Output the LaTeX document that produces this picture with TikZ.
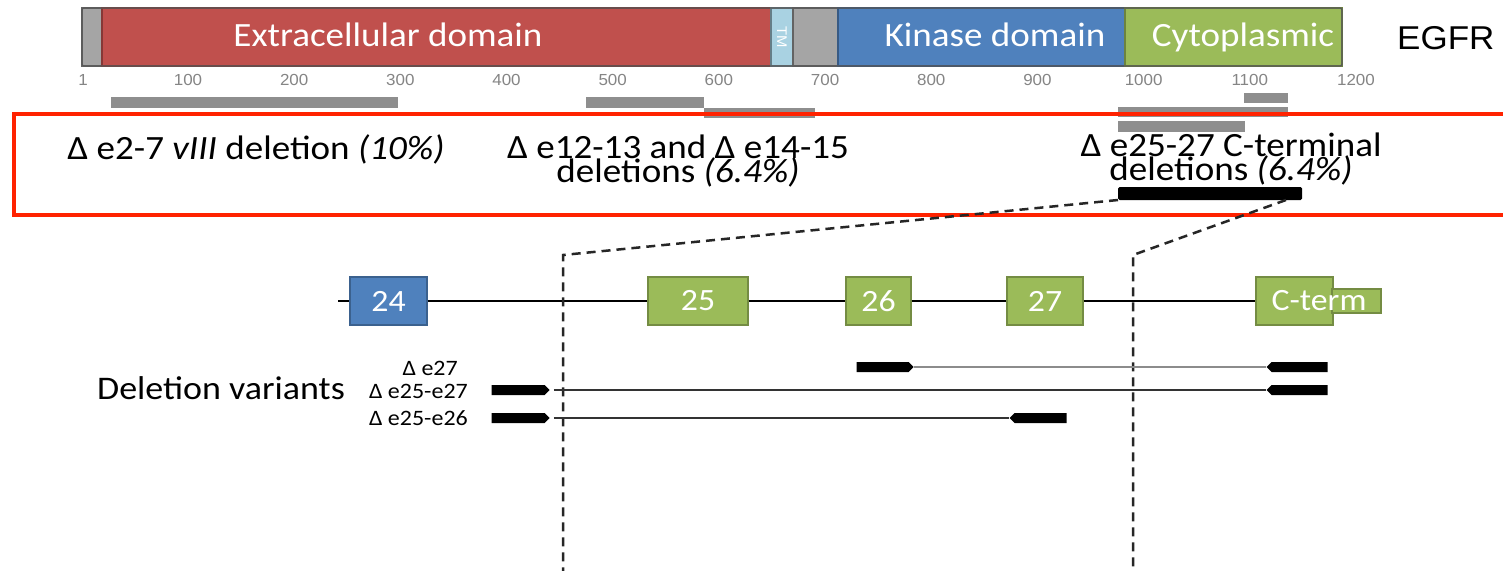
\documentclass[tikz,border=0pt]{standalone}
\usepackage{fontspec}
\setmainfont[FakeStretch=1.09]{Carlito}
\newfontfamily\arialfont[FakeStretch=1.06]{Liberation Sans}
\usetikzlibrary{shapes.symbols}

\definecolor{domred}{HTML}{C0504D}
\definecolor{domblue}{HTML}{4F81BD}
\definecolor{domgreen}{HTML}{9BBB59}
\definecolor{domgray}{HTML}{A5A5A5}
\definecolor{tmblue}{HTML}{A9D2E2}
\definecolor{barfill}{HTML}{8E8E8E}
\definecolor{framered}{HTML}{FF2200}
\definecolor{ticknum}{HTML}{858585}

% let two-line labels keep their close line spacing
\newcommand\tightlines{\lineskiplimit=-100pt\lineskip=0pt\relax}

\tikzset{
  seg/.style={draw=#1, line width=1.2pt, inner sep=0pt, outer sep=0pt,
              anchor=north west, minimum height=58},
  domlabel/.style={text=white, anchor=base, inner sep=0pt, font=\fontsize{34}{36}\selectfont},
  ticklabel/.style={text=ticknum, font=\arialfont\fontsize{16}{17}\selectfont},
  dellabel/.style={font={\fontsize{34}{24}\selectfont\tightlines},
                   align=center, inner sep=0pt},
  exon/.style={draw=#1!75!black, fill=#1, line width=1.2pt, inner sep=0pt,
               minimum height=48, text=white, font=\fontsize{31}{32}\selectfont},
  piece/.style={signal, fill=black, draw=none, inner sep=0pt, minimum height=10,
                signal pointer angle=90},
  varlabel/.style={font=\fontsize{22}{24}\selectfont, anchor=east, inner sep=0pt},
  zoomline/.style={draw=black!85, line width=2.5pt, dash pattern=on 9pt off 6pt},
}

\begin{document}
\begin{tikzpicture}[x=1pt,y=-1pt]
\useasboundingbox (0,0) rectangle (1503,570);
\fill[white] (0,0) rectangle (1503,570);

% ---- protein domain bar ----
\node[seg=domgray!60!black, fill=domgray, minimum width=20] (nterm) at (82,8) {};
\node[seg=domred!70!black, fill=domred, minimum width=669] (ecd) at (102,8) {};
\node[seg=tmblue!60!black, fill=tmblue, minimum width=22] (tm) at (771,8) {};
\node[seg=domgray!60!black, fill=domgray, minimum width=45] (jm) at (793,8) {};
\node[seg=domblue!70!black, fill=domblue, minimum width=287] (kin) at (838,8) {};
\node[seg=domgreen!70!black, fill=domgreen, minimum width=217] (cyto) at (1125,8) {};
\draw[black!65, line width=1.4pt, rounded corners=2pt] (nterm.north west) rectangle (cyto.south east);

\node[domlabel] at (388,46) {Extracellular domain};
\node[domlabel] at (995,46) {Kinase domain};
\node[domlabel] at (1243,46) {Cytoplasmic};
\node[text=white, rotate=-90, inner sep=0pt, font=\arialfont\fontsize{14}{15}\selectfont] at (tm.center) {TM};
\node[font=\arialfont\fontsize{33}{36}\selectfont, anchor=west, inner sep=0pt] (egfr) at (1397,38) {EGFR};

% ---- residue scale ----
\node[ticklabel] at (83,80) {1};
\foreach \v in {100,200,...,1200}
  \node[ticklabel] at ({81.8+1.0618*\v},80) {\v};

% ---- deleted regions ----
\fill[barfill] (111,97) rectangle (398,108);
\fill[barfill] (586,97) rectangle (704,108);
\fill[barfill] (704,108) rectangle (815,118);
\fill[barfill] (1244,93) rectangle (1288,103);
\fill[barfill] (1118,107) rectangle (1288,117);
\fill[barfill] (1118,121) rectangle (1245,132);

% ---- highlight frame and labels ----
\draw[framered, line width=4pt] (1520,113.5) -- (13.5,113.5) -- (13.5,214.5) -- (1520,214.5);

\node[dellabel, anchor=base] (d1) at (256,159) {Δ e2-7 \textit{vIII} deletion \textit{(10\%)}};
\node[dellabel, anchor=base] (d2) at (678,182) {Δ e12-13 and Δ e14-15\\deletions \textit{(6.4\%)}};
\node[dellabel, anchor=base] (d3) at (1231,180) {Δ e25-27 C-terminal\\deletions \textit{(6.4\%)}};

\node[fill=black, inner sep=0pt, outer sep=0pt, anchor=north west,
      minimum width=184, minimum height=13, rounded corners=1.5pt] (ctbar) at (1118,187) {};

% ---- exon map ----
\coordinate (start) at (338,301);
\node[exon=domblue, minimum width=77] (e24) at (388.5,301) {24};
\node[exon=domgreen, minimum width=100] (e25) at (698,301) {25};
\node[exon=domgreen, minimum width=65] (e26) at (878.5,301) {26};
\node[exon=domgreen, minimum width=76] (e27) at (1045,301) {27};
\node[exon=domgreen, minimum width=77] (ct) at (1294.5,301) {};
\node[exon=domgreen, minimum width=49, minimum height=24] (ctx) at (1356.5,301) {};
\node[text=white, font=\fontsize{31}{32}\selectfont, inner sep=0pt] at (1319,301) {C-term};
\draw[line width=2.2pt] (start) -- (e24.west);
\draw[line width=2.2pt] (e24.east) -- (e25.west);
\draw[line width=2.2pt] (e25.east) -- (e26.west);
\draw[line width=2.2pt] (e26.east) -- (e27.west);
\draw[line width=2.2pt] (e27.east) -- (ct.west);

% ---- zoom guides ----
\coordinate (bendL) at (563,255);
\coordinate (footL) at (563,572);
\coordinate (bendR) at (1133,255);
\coordinate (footR) at (1133,572);
\draw[zoomline] (ctbar.south west) -- (bendL) -- (footL);
\draw[zoomline] ([xshift=-16pt]ctbar.south east) -- (bendR) -- (footR);

% ---- deletion variants ----
\node[font=\fontsize{33}{34}\selectfont, inner sep=0pt] at (221,388) {Deletion variants};
\node[varlabel] at (458,368) {Δ e27};
\node[varlabel] at (468,391) {Δ e25-e27};
\node[varlabel] at (468,418) {Δ e25-e26};

\node[piece, signal to=east, minimum width=57] (r1a) at (882.5,367) {};
\node[piece, signal to=west, minimum width=61] (r1b) at (1299.5,367) {};
\draw[black!45, line width=2pt] (r1a.east) -- (r1b.west);

\node[piece, signal to=east, minimum width=58] (r2a) at (518,390) {};
\node[piece, signal to=west, minimum width=61] (r2b) at (1299.5,390) {};
\draw[black!80, line width=1.4pt] ([xshift=4pt]r2a.east) -- (r2b.west);

\node[piece, signal to=east, minimum width=58] (r3a) at (518,418) {};
\node[piece, signal to=west, minimum width=57] (r3b) at (1040.5,418) {};
\draw[black!80, line width=1.4pt] ([xshift=4pt]r3a.east) -- (r3b.west);
\end{tikzpicture}
\end{document}
